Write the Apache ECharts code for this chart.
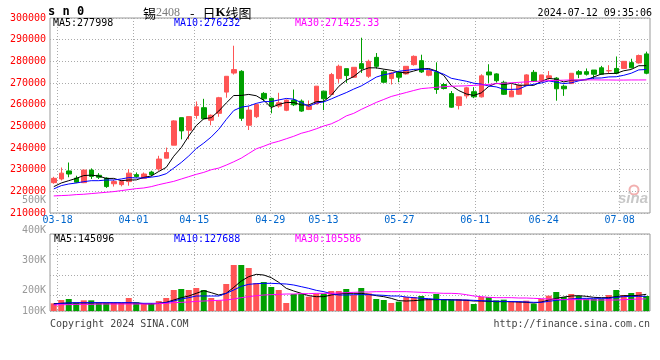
<!DOCTYPE html>
<html><head><meta charset="utf-8">
<script src="https://cdn.jsdelivr.net/npm/echarts/dist/echarts.min.js"></script>
<style>html,body{margin:0;padding:0;background:#fff}#c{width:660px;height:360px}</style>
</head><body><div id="c"></div>
<script>
// ---------- data ----------
const dates = ['03-15','03-18','03-19','03-20','03-21','03-22','03-25','03-26','03-27','03-28','03-29',
'04-01','04-02','04-03','04-08','04-09','04-10','04-11','04-12','04-15','04-16','04-17','04-18','04-19',
'04-22','04-23','04-24','04-25','04-26','04-29','04-30',
'05-06','05-07','05-08','05-09','05-10','05-13','05-14','05-15','05-16','05-17','05-20','05-21','05-22','05-23','05-24',
'05-27','05-28','05-29','05-30','05-31',
'06-03','06-04','06-05','06-06','06-07','06-11','06-12','06-13','06-14','06-17','06-18','06-19','06-20','06-21',
'06-24','06-25','06-26','06-27','06-28',
'07-01','07-02','07-03','07-04','07-05','07-08','07-09','07-10','07-11','07-12'];
const tickDates = ['03-18','04-01','04-15','04-29','05-13','05-27','06-11','06-24','07-08'];

const openP = [224000,225700,229400,226100,224000,229800,227400,226100,223500,223100,
224500,227700,226000,228900,230300,235300,241300,254000,248200,255000,
258600,252800,256000,265800,274600,275400,250500,254450,265200,262900,
259350,257400,262100,261640,257800,260400,266230,264700,272040,276630,
272660,278930,273120,281840,275410,272040,274950,274190,278470,280310,
273570,275100,269290,265100,259590,264060,265990,263610,275080,274190,
270320,263610,264800,268970,274930,271060,272250,272250,268530,269720,
275230,275230,275980,277020,275600,276720,276720,279400,279250,283430];
const closeP = [226000,228400,228000,224200,229800,226900,226500,222200,224500,224500,
228400,226800,228000,227700,234900,237900,252500,247900,254500,259000,
253500,255100,263200,273100,276200,253700,257500,260100,262700,259300,
260880,262100,259960,257050,259350,268530,262710,273880,277700,273420,
277250,276630,280000,277700,270360,274650,272660,277700,282300,275100,
275720,267000,267450,258840,263610,267780,263610,273300,273740,271060,
264800,266290,268970,273740,270760,273740,273300,267330,267330,274490,
274040,274040,274040,274040,275700,274490,280000,277020,282680,274490];
const lowP = [223500,225000,226500,223800,223800,225700,225700,221600,222200,222300,
222600,226300,225700,226900,229500,235300,241300,244000,244000,253500,
253200,250500,254400,263200,273900,252500,248300,253800,261600,256000,
258580,257000,259350,256700,257500,260100,257500,264700,270060,270060,
272350,274650,272350,276630,270060,269290,270360,273880,278010,274650,
273110,265010,266990,258540,257800,262870,263010,263310,270020,270320,
264500,263610,264500,268680,270460,270760,271510,261820,264060,269570,
272250,273440,271810,273740,274190,274040,276420,276720,278960,274040];
const highP = [226700,231000,233300,227200,230000,230600,228400,226500,225400,225200,
230300,228700,228700,229500,236400,240200,252800,254000,254500,261500,
262700,255500,263600,273100,287200,275900,259300,260400,265800,263200,
265470,262400,267000,262400,261950,268530,266230,274650,278470,276630,
277250,290900,280770,283830,276170,275100,275410,277700,282750,283060,
275720,279540,270060,266290,263610,268230,268080,274040,278660,274490,
271060,269570,269270,274040,275980,273740,275530,272700,269270,274490,
275980,276720,275980,277910,278210,282240,280000,281190,283130,284470];

const ma5 = [222160,223850,224920,225990,227280,227460,227080,225920,225980,224920,
225220,225280,226440,227080,229160,231060,236200,240180,245540,250360,
253480,254000,257060,260780,264220,264260,264740,264120,262040,258660,
260100,261020,260990,259860,259870,261400,261520,264300,268430,271250,
272990,275780,277000,277000,276390,275870,275070,274610,275530,276480,
276700,275560,273510,268820,266520,264940,264260,265430,268410,269900,
269300,269840,268970,268970,268910,270700,272100,271770,270490,271240,
271300,271450,272790,274130,274370,274460,275650,276250,277970,277998];
const ma10 = [221100,222630,223390,223850,224460,224920,224920,225230,225230,225700,
226340,226180,226180,226530,227040,228140,230740,233310,236310,239760,
242270,245100,248620,253160,257290,258870,259370,260590,261410,261440,
262180,262880,262550,260950,259260,260750,261270,262650,264150,265560,
267200,268650,270650,272720,273820,274430,275430,275810,276270,276440,
276280,275320,274060,272180,271500,270820,269910,269470,268620,268210,
267120,267050,267200,268690,269410,270000,270970,270370,269730,270080,
271000,271770,272280,272310,272800,272880,273550,274520,276050,276232];
const ma30 = [217880,218040,218190,218490,218650,218950,219260,219560,219870,220330,
220790,221250,221550,222170,223080,223850,224610,225690,226760,227830,
228750,229970,230730,232110,233640,235320,237470,239620,240810,242190,
243110,244260,245410,246790,247700,248850,250140,251150,252760,254800,
256000,257810,259420,261030,262400,263780,264700,265620,266540,267400,
267700,268000,268300,268500,268600,268700,268900,269100,269300,269700,
269900,270100,270300,270500,270700,270900,271100,271200,271300,271400,
271400,271450,271450,271400,271400,271350,271350,271400,271400,271425.33];

const volume = [66700,95700,104400,72500,92800,92800,75400,72500,72500,69600,
113100,75400,63800,69600,87000,113100,182700,191400,182700,200100,
182700,113100,92800,234900,400200,400200,374100,243600,252300,208800,
182700,69600,147900,147900,124700,150800,150800,174000,174000,191400,
139200,200100,153700,104400,95700,69600,81200,121800,121800,130500,
104400,147900,104400,98600,104400,98600,60900,121800,121800,92800,
98600,81200,81200,89900,63800,104400,133400,165300,121800,147900,
130500,107300,104400,107300,139200,182700,139200,156600,165300,130500];
const volMa5 = [63800,66700,69600,69600,69600,69600,69600,69600,69600,69600,
69600,69600,63800,60900,66700,75400,95700,116000,130500,153700,
176900,159500,139200,153700,205900,261000,298700,319000,313200,290000,
249400,197200,174000,153700,133400,124700,124700,139200,147900,153700,
153700,153700,145000,133400,124700,110200,89900,87000,89900,95700,
98600,98600,98600,98600,95700,92800,87000,87000,84100,81200,
81200,81200,78300,75400,69600,78300,95700,110200,121800,130500,
133400,127600,118900,116000,116000,124700,133400,133400,136300,145096];
const volMa10 = [58000,66700,69600,72500,72500,72500,72500,72500,72500,72500,
72500,69600,66700,66700,66700,72500,87000,104400,116000,130500,
130500,130500,130500,153700,182700,214600,232000,237800,240700,240700,
237800,234900,226200,211700,197200,179800,168200,150800,139200,139200,
142100,142100,142100,139200,136300,130500,130500,121800,116000,110200,
107300,101500,98600,95700,95700,95700,92800,89900,87000,84100,
84100,81200,81200,78300,75400,75400,84100,92800,98600,104400,
110200,110200,110200,110200,110200,118900,124700,127600,127600,127688];
const volMa30 = [52200,55100,55100,58000,58000,58000,60900,60900,60900,60900,
60900,60900,60900,60900,63800,66700,72500,75400,78300,84100,
87000,89900,92800,95700,104400,116000,124700,133400,139200,142100,
145000,147900,147900,150800,150800,153700,153700,153700,156600,159500,
162400,165300,165300,168200,168200,168200,168200,168200,165300,162400,
159500,156600,153700,153700,150800,142100,130500,124700,118900,116000,
116000,116000,113100,113100,110200,107300,104400,101500,98600,98600,
98600,98600,95700,95700,95700,95700,98600,101500,104400,105586];

const volTickLabels = ['500K','400K','300K','200K','100K'];

// ---------- styling ----------
const MONO = '"DejaVu Sans Mono"';
const RED = '#ff5555', GREEN = '#00a000';
const C5 = '#000000', C10 = '#0000ff', C30 = '#ff00ff';
const dotted = {show: true, lineStyle: {color: '#aaaaaa', type: [1, 2], width: 1}};
const isTick = (i, v) => tickDates.indexOf(v) >= 0;
const hiddenCat = (g) => ({type: 'category', gridIndex: g, data: dates, boundaryGap: true, position: 'bottom',
  axisLine: {show: false}, axisTick: {show: false}, axisLabel: {show: false}, splitLine: {show: false}});
const labelCat = (g, showLabel) => ({type: 'category', gridIndex: g, data: dates, boundaryGap: false, position: 'bottom',
  axisLine: {show: false}, axisTick: {show: false},
  axisLabel: {show: showLabel, interval: isTick, color: '#0066cc', fontFamily: 'DejaVu Sans Mono', fontSize: 10, margin: 2},
  splitLine: Object.assign({interval: isTick}, dotted)});
const maLine = (name, data, color, xi, yi) => ({type: 'line', name, data, xAxisIndex: xi, yAxisIndex: yi,
  symbol: 'none', showSymbol: false, lineStyle: {color, width: 1}, itemStyle: {color}, z: 5, silent: true});

const candleData = dates.map((d, i) => [openP[i], closeP[i], lowP[i], highP[i]]);
const volColor = (p) => closeP[p.dataIndex] >= openP[p.dataIndex] ? RED : GREEN;

const txt = (x, y, text, fill, extra) => ({type: 'text', x, y, silent: true, z: 10,
  style: Object.assign({text, fill, font: '10px ' + MONO, verticalAlign: 'middle'}, extra || {})});
const volLabelY = [200, 230, 260, 290.5, 311];

const graphic = [
  txt(48, 12, 's n 0', '#000', {font: 'bold 12px ' + MONO}),
  {type: 'text', x: 143, y: 13, silent: true, z: 10, style: {
    text: '{a|锡}{b|2408}{d|-}{a|日}{k|K}{a|线图}', verticalAlign: 'middle',
    rich: {
      a: {font: '13px "Noto Sans CJK SC"', fill: '#000'},
      b: {font: '12px "Liberation Serif"', fill: '#7a7a7a'},
      d: {font: '13px "Noto Sans CJK SC"', fill: '#000', padding: [0, 8, 0, 10]},
      k: {font: 'bold 13px "Liberation Serif"', fill: '#000'}
    }}},
  txt(652, 13, '2024-07-12 09:35:06', '#000', {align: 'right'}),
  txt(53, 23.5, 'MA5:' + ma5[ma5.length - 1], C5),
  txt(174, 23.5, 'MA10:' + ma10[ma10.length - 1], C10),
  txt(295, 23.5, 'MA30:' + ma30[ma30.length - 1], C30),
  txt(54, 239, 'MA5:' + volMa5[volMa5.length - 1], C5),
  txt(174, 239, 'MA10:' + volMa10[volMa10.length - 1], C10),
  txt(295, 239, 'MA30:' + volMa30[volMa30.length - 1], C30),
  txt(50, 324, 'Copyright 2024 SINA.COM', '#444'),
  txt(650, 324, 'http://finance.sina.com.cn', '#444', {align: 'right'}),
  {type: 'circle', silent: true, shape: {cx: 634, cy: 190, r: 4.5}, style: {fill: 'none', stroke: '#f2b0b0', lineWidth: 2}},
  txt(618, 199, 'sina', '#c8c8c8', {font: 'italic bold 15px "Liberation Sans"'})
].concat(volTickLabels.map((t, i) => txt(46, volLabelY[i], t, '#999999', {align: 'right'})));

const option = {
  animation: false,
  backgroundColor: '#ffffff',
  grid: [
    {left: 50, top: 18, width: 600, height: 195, show: true, borderColor: '#999', borderWidth: 1, backgroundColor: 'transparent'},
    {left: 50, top: 234, width: 600, height: 77, show: true, borderColor: '#999', borderWidth: 1, backgroundColor: 'transparent'}
  ],
  xAxis: [hiddenCat(0), labelCat(0, true), hiddenCat(1), labelCat(1, false)],
  yAxis: [
    {type: 'value', gridIndex: 0, min: 210000, max: 300000, interval: 10000,
     axisLine: {show: false}, axisTick: {show: false},
     axisLabel: {color: '#ff0000', fontFamily: 'DejaVu Sans Mono', fontSize: 10, margin: 4, padding: [0, 0, 2, 0],
       formatter: (v) => String(v)},
     splitLine: dotted},
    {type: 'value', gridIndex: 1, min: 0, max: 670000,
     axisLine: {show: false}, axisTick: {show: false}, axisLabel: {show: false}, splitLine: {show: false}},
    {type: 'value', gridIndex: 1, min: 0, max: 77, interval: 20.5, inverse: true,
     axisLine: {show: false}, axisTick: {show: false}, axisLabel: {show: false}, splitLine: dotted}
  ],
  graphic,
  series: [
    {type: 'candlestick', data: candleData, xAxisIndex: 0, yAxisIndex: 0, barWidth: 5, silent: true,
     itemStyle: {color: RED, color0: GREEN, borderColor: RED, borderColor0: GREEN, borderWidth: 1}},
    maLine('MA5', ma5, C5, 0, 0),
    maLine('MA10', ma10, C10, 0, 0),
    maLine('MA30', ma30, C30, 0, 0),
    {type: 'bar', data: volume, xAxisIndex: 2, yAxisIndex: 1, barWidth: 6, silent: true,
     itemStyle: {color: volColor}},
    maLine('VMA5', volMa5, C5, 2, 1),
    maLine('VMA10', volMa10, C10, 2, 1),
    maLine('VMA30', volMa30, C30, 2, 1)
  ]
};
const chart = echarts.init(document.getElementById('c'), null, {renderer: 'canvas'});
chart.setOption(option);
</script></body></html>
